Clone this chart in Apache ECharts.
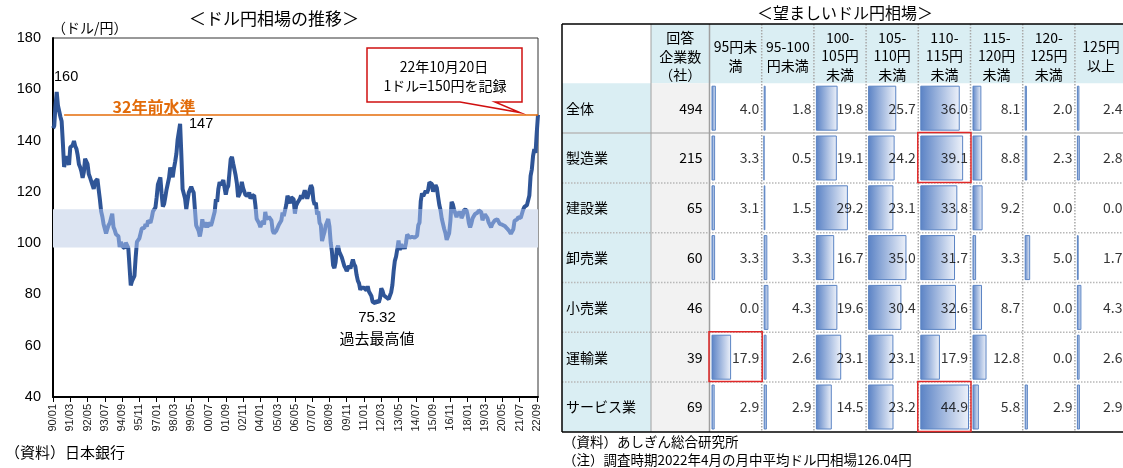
<!DOCTYPE html>
<html>
<head>
<meta charset="utf-8">
<script src="https://cdn.jsdelivr.net/npm/echarts@6/dist/echarts.min.js"></script>
<style>
  html, body { margin: 0; padding: 0; background: #fff; }
  #main { width: 1123px; height: 468px; }
</style>
</head>
<body>
<div id="main"></div>
<script>
// ドル円相場（月中平均、90/01〜22/10）
const usdjpy = [
  144.8,145.7,153.3,159.0,153.7,153.8,149.3,147.5,139.0,129.7,129.0,133.9, // 1990
  133.7,130.5,137.4,137.1,138.2,139.8,137.8,136.8,134.3,130.8,129.6,128.0, // 1991
  125.5,127.7,132.9,133.5,130.8,126.9,125.6,126.3,122.6,121.2,123.9,123.9, // 1992
  125.0,120.9,117.0,112.4,110.3,107.4,107.7,103.8,105.4,107.0,107.8,109.7, // 1993
  111.5,106.3,105.1,103.5,104.0,102.7,98.5,100.5,98.9,98.4,98.0,100.2,     // 1994
  99.8,98.2,90.8,83.5,85.2,84.5,87.2,94.6,100.5,100.8,101.9,101.9,         // 1995
  105.8,105.7,105.9,107.4,106.5,108.8,109.2,107.9,109.9,112.4,112.3,113.9, // 1996
  117.9,122.9,122.7,125.6,119.2,114.3,115.2,117.9,120.9,121.1,125.4,129.5, // 1997
  129.5,125.7,129.1,131.8,134.9,140.4,140.7,146.5,134.5,121.1,120.6,117.4, // 1998
  113.2,116.7,119.7,119.7,122.0,120.7,119.7,113.2,106.9,105.9,104.8,102.6, // 1999
  105.2,109.3,106.3,105.6,108.1,106.1,107.9,108.0,106.8,108.4,108.9,112.2, // 2000
  117.1,116.1,121.2,123.8,122.6,122.2,124.6,121.6,118.9,121.4,122.3,127.5, // 2001
  132.7,133.6,131.1,130.8,126.4,123.3,118.0,119.0,120.5,123.9,121.5,121.9, // 2002
  118.7,119.3,118.6,119.8,117.4,118.3,118.7,118.7,114.8,109.5,109.2,107.7, // 2003
  106.3,106.6,108.6,107.2,112.2,109.4,109.4,110.2,110.0,108.9,104.9,103.8, // 2004
  103.3,104.9,104.9,107.2,106.6,108.8,111.9,110.6,111.1,114.9,118.5,118.6, // 2005
  115.5,117.9,117.3,117.1,111.5,114.6,115.7,115.9,117.2,118.6,117.3,117.3, // 2006
  120.6,120.5,117.3,119.0,120.8,122.6,121.6,116.7,115.0,115.8,111.2,112.4, // 2007
  107.9,107.1,100.8,102.7,104.4,106.9,106.9,109.4,106.6,100.3,96.8,91.3,   // 2008
  90.3,92.5,97.9,99.0,96.6,96.6,94.5,94.8,91.2,90.3,89.1,89.6,             // 2009
  91.1,90.1,90.7,93.6,91.8,90.9,87.6,85.4,84.3,81.8,82.6,83.3,             // 2010
  82.6,82.5,81.6,83.2,81.1,80.5,79.4,77.1,76.8,76.5,77.5,77.8,             // 2011
  76.9,78.5,82.4,81.4,79.7,79.3,78.9,78.7,78.2,78.9,80.8,83.6,             // 2012
  89.0,93.1,94.8,97.7,101.0,97.3,99.7,97.8,99.2,97.8,100.0,103.4,          // 2013
  103.8,102.1,102.3,102.5,101.8,102.1,101.7,102.9,107.0,108.0,116.4,119.4, // 2014
  118.3,118.8,120.4,119.6,120.8,123.7,123.3,123.1,120.1,120.1,122.6,121.6, // 2015
  118.2,115.0,112.9,109.6,109.0,105.5,103.9,101.3,101.9,103.8,108.6,116.1, // 2016
  115.1,113.0,112.9,110.1,112.3,110.9,112.4,109.8,110.8,113.0,112.8,112.9, // 2017
  110.9,107.8,106.1,107.6,109.7,110.1,111.4,111.0,111.9,112.8,113.3,112.1, // 2018
  108.9,110.4,111.2,111.6,109.8,108.1,108.2,106.2,107.5,108.2,108.9,109.1, // 2019
  109.3,110.0,107.5,107.6,107.2,107.6,106.7,106.0,105.7,105.2,104.5,103.7, // 2020
  103.7,105.4,108.7,109.0,109.2,110.1,110.2,109.8,110.2,113.1,114.1,113.8, // 2021
  114.8,115.2,118.6,126.2,128.8,134.0,136.7,135.2,143.2,150.0              // 2022
];
const monthLabels = [];
for (let y = 1990; y <= 2022; y++) {
  for (let m = 1; m <= 12; m++) {
    if (monthLabels.length < usdjpy.length) {
      monthLabels.push(String(y % 100).padStart(2, '0') + '/' + String(m).padStart(2, '0'));
    }
  }
}
const yTicks = { min: 40, max: 180, step: 20 };
const bandLow = 98.3, bandHigh = 113.2;   // 網掛けの範囲
const level32 = 150;                      // 32年前水準

// 望ましいドル円相場（%）
const industries = ['全体', '製造業', '建設業', '卸売業', '小売業', '運輸業', 'サービス業'];
const respondents = [494, 215, 65, 60, 46, 39, 69];
const rangeHeaders = ['95円未\n満', '95-100\n円未満', '100-\n105円\n未満', '105-\n110円\n未満',
  '110-\n115円\n未満', '115-\n120円\n未満', '120-\n125円\n未満', '125円\n以上'];
const under95   = [4.0, 3.3, 3.1, 3.3, 0.0, 17.9, 2.9];
const r95_100   = [1.8, 0.5, 1.5, 3.3, 4.3, 2.6, 2.9];
const r100_105  = [19.8, 19.1, 29.2, 16.7, 19.6, 23.1, 14.5];
const r105_110  = [25.7, 24.2, 23.1, 35.0, 30.4, 23.1, 23.2];
const r110_115  = [36.0, 39.1, 33.8, 31.7, 32.6, 17.9, 44.9];
const r115_120  = [8.1, 8.8, 9.2, 3.3, 8.7, 12.8, 5.8];
const r120_125  = [2.0, 2.3, 0.0, 5.0, 0.0, 0.0, 2.9];
const over125   = [2.4, 2.8, 0.0, 1.7, 4.3, 2.6, 2.9];
const shares = [under95, r95_100, r100_105, r105_110, r110_115, r115_120, r120_125, over125];
const highlighted = [[1, 4], [5, 0], [6, 4]];   // [行, 列] 赤枠

const JP = '"Noto Sans CJK JP", sans-serif';
const NUM = '"Liberation Sans", "Noto Sans CJK JP", sans-serif';
const dark = '#2F5597', light = '#7190C9';

// 表のレイアウト
const tLeft = 562, labelRight = 651, countRight = 709.5;
const colW = 52.2, headTop = 24, bodyTop = 83.3, rowH = 49.8;
const tBottom = bodyTop + rowH * industries.length;
const barMax = 44;

function txt(x, y, text, font, opt) {
  opt = opt || {};
  return {
    type: 'text', x: x, y: y, z: opt.z || 20, silent: true,
    style: {
      text: text, font: font, fill: opt.fill || '#000',
      align: opt.align || 'left', textAlign: opt.align || 'left',
      verticalAlign: 'middle', textVerticalAlign: 'middle',
      lineHeight: opt.lh
    }
  };
}
function ln(x1, y1, x2, y2, stroke, w, dash, z) {
  return {
    type: 'line', silent: true, z: z || 5,
    shape: { x1: x1, y1: y1, x2: x2, y2: y2 },
    style: { stroke: stroke, lineWidth: w, lineDash: dash || null }
  };
}
function rect(x, y, w, h, fill, stroke, z) {
  return {
    type: 'rect', silent: true, z: z || 0,
    shape: { x: x, y: y, width: w, height: h },
    style: { fill: fill || 'none', stroke: stroke || null, lineWidth: 1.5 }
  };
}

const graphics = [];
// 左のタイトル類
graphics.push(txt(274, 19, '＜ドル円相場の推移＞', '17px ' + JP, { align: 'center' }));
graphics.push(txt(52, 28, '（ドル/円）', '14px ' + JP));
graphics.push(txt(5, 452, '（資料）日本銀行', '15px ' + JP));
graphics.push(txt(54, 77, '160', '14.5px ' + NUM));
graphics.push(txt(189, 124, '147', '14.5px ' + NUM));
graphics.push(txt(154, 107, '32年前水準', 'bold 16px ' + JP, { align: 'center', fill: '#E26B0A' }));
graphics.push(txt(377, 318, '75.32', '15px ' + NUM, { align: 'center' }));
graphics.push(txt(377, 338, '過去最高値', '15px ' + JP, { align: 'center' }));
// 吹き出し
graphics.push({
  type: 'polygon', silent: true, z: 15,
  shape: { points: [[367, 48], [522, 48], [522, 102], [495, 102], [520, 112.5], [460, 102], [367, 102]] },
  style: { fill: '#fff', stroke: '#D01010', lineWidth: 1.5 }
});
graphics.push(txt(444, 67, '22年10月20日', '14px ' + JP, { align: 'center', z: 16 }));
graphics.push(txt(445, 86, '1ドル=150円を記録', '14px ' + JP, { align: 'center', z: 16 }));

// 右の表
graphics.push(txt(845, 13, '＜望ましいドル円相場＞', '16px ' + JP, { align: 'center' }));
graphics.push(txt(563, 442, '（資料）あしぎん総合研究所', '13.5px ' + JP));
graphics.push(txt(563, 460, '（注）調査時期2022年4月の月中平均ドル円相場126.04円', '13.5px ' + JP));
graphics.push(rect(labelRight, headTop, 1123 - labelRight, bodyTop - headTop, '#DAEEF3'));
graphics.push(rect(tLeft, bodyTop, labelRight - tLeft, tBottom - bodyTop, '#DAEEF3'));
graphics.push(rect(labelRight, bodyTop, countRight - labelRight, tBottom - bodyTop, '#F2F2F2'));
graphics.push(txt((labelRight + countRight) / 2, 56.5, '回答\n企業数\n（社）', '14px ' + JP, { align: 'center', lh: 18.5 }));
rangeHeaders.forEach(function (h, j) {
  graphics.push(txt(countRight + colW * (j + 0.5), 56, h, '14px ' + JP, { align: 'center', lh: 18.5 }));
  if (j > 0) {
    graphics.push(ln(countRight + colW * j, headTop, countRight + colW * j, tBottom, '#A8A8A8', 1.5, [1.5, 1.5]));
  }
});
industries.forEach(function (name, i) {
  const cy = bodyTop + rowH * (i + 0.5);
  graphics.push(txt(566, cy, name, '14px ' + JP));
  graphics.push(txt(countRight - 7, cy, String(respondents[i]), '14px ' + JP, { align: 'right' }));
  if (i > 0) {
    const y = bodyTop + rowH * i;
    graphics.push(ln(tLeft, y, 1123, y, '#B8B8B8', 1.5, i === 1 ? null : [1.5, 1.5]));
  }
});
graphics.push(ln(labelRight, headTop, labelRight, tBottom, '#A0A0A0', 1));
graphics.push(ln(countRight, headTop, countRight, tBottom, '#A0A0A0', 1.5));
graphics.push(ln(tLeft, headTop, 1123, headTop, '#000', 1.5));
graphics.push(ln(tLeft, headTop, tLeft, tBottom, '#000', 1.5));
graphics.push(ln(tLeft, tBottom, 1123, tBottom, '#000', 1.5));
highlighted.forEach(function (c) {
  graphics.push(rect(countRight + colW * c[1] - 0.5, bodyTop + rowH * c[0] - 0.5, colW + 1, rowH, null, '#E02828', 12));
});

// グリッド・軸・系列
const grids = [{ left: 53, right: 585, top: 38, bottom: 71, show: true, borderColor: '#333', borderWidth: 1 }];
const xAxes = [{
  type: 'category', gridIndex: 0, data: monthLabels, boundaryGap: false,
  axisLine: { lineStyle: { color: '#000', width: 2 } },
  axisTick: { interval: 13, length: 5, lineStyle: { color: '#000' } },
  axisLabel: { interval: 13, rotate: 90, fontSize: 11, fontFamily: NUM, color: '#222', margin: 7 },
  splitLine: { show: false }
}];
const yAxes = [{
  type: 'value', gridIndex: 0, min: yTicks.min, max: yTicks.max, interval: yTicks.step,
  axisLine: { show: true, lineStyle: { color: '#000', width: 2 } },
  axisTick: { show: false },
  axisLabel: { fontSize: 14.5, fontFamily: NUM, color: '#000', margin: 12 },
  splitLine: { show: false }
}];
const series = [{
  type: 'line', xAxisIndex: 0, yAxisIndex: 0, data: usdjpy,
  symbol: 'none', showSymbol: false, z: 3,
  lineStyle: { width: 4 },
  markArea: {
    silent: true, itemStyle: { color: '#DCE4F2' },
    data: [[{ yAxis: bandLow }, { yAxis: bandHigh }]]
  },
  markLine: {
    silent: true, symbol: 'none', animation: false,
    label: { show: false },
    lineStyle: { color: '#E46C0A', width: 1.5, type: 'solid' },
    data: [[{ coord: [monthLabels[9], level32] }, { coord: [monthLabels[monthLabels.length - 1], level32] }]]
  }
}];

shares.forEach(function (vals, j) {
  const gi = j + 1;
  grids.push({ left: countRight + colW * j + 2, top: bodyTop, width: colW - 4, height: rowH * industries.length });
  xAxes.push({ type: 'value', gridIndex: gi, min: 0, max: barMax, show: false });
  yAxes.push({ type: 'category', gridIndex: gi, data: industries, inverse: true, show: false });
  series.push({
    type: 'bar', xAxisIndex: gi, yAxisIndex: gi, silent: true,
    data: vals.map(function (v) { return v === 0 ? null : v; }),
    barWidth: 45,
    itemStyle: {
      color: new echarts.graphic.LinearGradient(0, 0, 1, 0, [
        { offset: 0, color: '#5A82C5' }, { offset: 1, color: '#EEF2FA' }
      ]),
      borderColor: '#5B84C4', borderWidth: 1
    }
  });
  series.push({
    type: 'scatter', xAxisIndex: gi, yAxisIndex: gi, silent: true, z: 4,
    symbolSize: 1, itemStyle: { color: 'rgba(0,0,0,0)' },
    data: vals.map(function (v, i) { return [barMax, i, v]; }),
    label: {
      show: true, position: 'left', distance: 0,
      formatter: function (p) { return p.data[2].toFixed(1); },
      fontSize: 14, fontFamily: JP, color: '#000'
    }
  });
});

const chart = echarts.init(document.getElementById('main'));
chart.setOption({
  animation: false,
  grid: grids,
  xAxis: xAxes,
  yAxis: yAxes,
  visualMap: {
    type: 'piecewise', show: false, seriesIndex: 0, dimension: 1,
    pieces: [
      { lt: bandLow, color: dark },
      { gte: bandLow, lte: bandHigh, color: light },
      { gt: bandHigh, color: dark }
    ]
  },
  series: series,
  graphic: graphics
});
</script>
</body>
</html>
